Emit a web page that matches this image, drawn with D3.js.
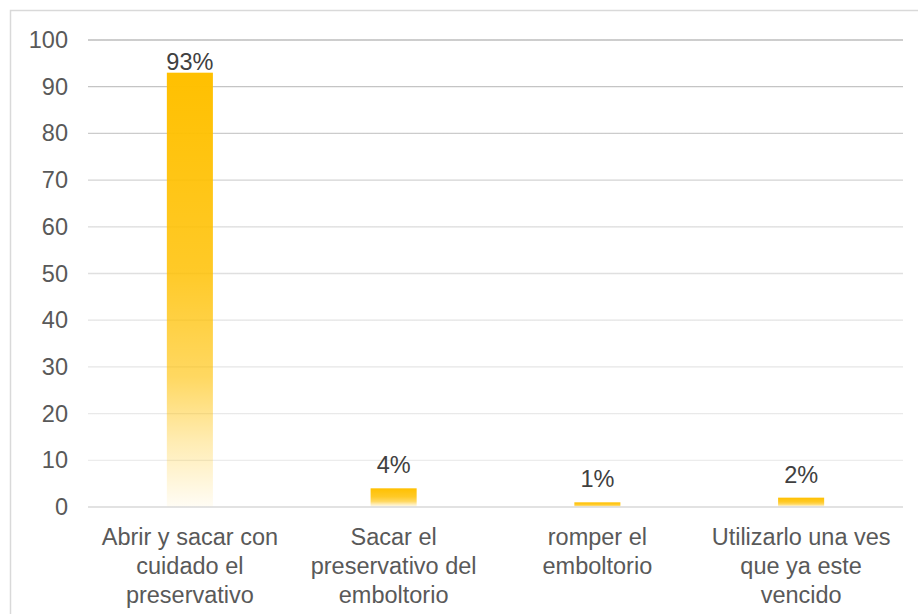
<!DOCTYPE html>
<html>
<head>
<meta charset="utf-8">
<script src="https://cdn.jsdelivr.net/npm/d3@7"></script>
<style>
  html, body { margin: 0; padding: 0; background: #fff; }
  svg { display: block; font-family: "Liberation Sans", Arial, sans-serif; }
</style>
</head>
<body>
<svg id="chart" width="918" height="614"></svg>
<script>
// Chart data
const categories = [
  ["Abrir y sacar con", "cuidado el", "preservativo"],
  ["Sacar el", "preservativo del", "emboltorio"],
  ["romper el", "emboltorio"],
  ["Utilizarlo una ves", "que ya este", "vencido"]
];
const values = [93, 4, 1, 2];
const valueLabels = ["93%", "4%", "1%", "2%"];
const yTicks = [0, 10, 20, 30, 40, 50, 60, 70, 80, 90, 100];

const svg = d3.select("#chart");
const W = 918, H = 614;
const margin = { left: 88, right: 15, top: 40, bottom: 107 };
const plotW = W - margin.left - margin.right;
const plotH = H - margin.top - margin.bottom;
const fontSize = "23.5px";

const defs = svg.append("defs");

// Bar fill: solid amber on top, fading to near-transparent at the base
const barGrad = defs.append("linearGradient")
  .attr("id", "barGrad").attr("x1", 0).attr("y1", 0).attr("x2", 0).attr("y2", 1);
[[0, 1], [0.45, 0.85], [0.7, 0.62], [0.85, 0.3], [1, 0.04]].forEach(([o, a]) =>
  barGrad.append("stop").attr("offset", o).attr("stop-color", "#ffc000").attr("stop-opacity", a));

// Gridlines darker toward the top of the plot
const gridGrad = defs.append("linearGradient")
  .attr("id", "gridGrad").attr("gradientUnits", "userSpaceOnUse")
  .attr("x1", 0).attr("y1", margin.top).attr("x2", 0).attr("y2", margin.top + plotH);
gridGrad.append("stop").attr("offset", 0).attr("stop-color", "#bdbdbd");
gridGrad.append("stop").attr("offset", 0.45).attr("stop-color", "#dedede");
gridGrad.append("stop").attr("offset", 1).attr("stop-color", "#efefef");

// Outer chart frame (extends past the window edge)
svg.append("rect")
  .attr("x", 10.5).attr("y", 10.5).attr("width", W + 20).attr("height", H + 20)
  .attr("fill", "none").attr("stroke", "#d9d9d9").attr("stroke-width", 1.5);

const x = d3.scaleBand()
  .domain(d3.range(categories.length))
  .range([margin.left, margin.left + plotW])
  .paddingInner(0.774).paddingOuter(0.387);

const y = d3.scaleLinear().domain([0, 100]).range([margin.top + plotH, margin.top]);

// Gridlines
const grid = svg.append("g");
grid.selectAll("line").data(yTicks.filter(t => t > 0)).join("line")
  .attr("x1", margin.left).attr("x2", margin.left + plotW)
  .attr("y1", d => y(d)).attr("y2", d => y(d))
  .attr("stroke", "url(#gridGrad)").attr("stroke-width", 1.3);

// Y axis labels
const yAxis = svg.append("g")
  .attr("transform", `translate(${margin.left},0)`)
  .call(d3.axisLeft(y).tickValues(yTicks).tickSize(0).tickPadding(20));
yAxis.select(".domain").remove();
yAxis.selectAll("text")
  .attr("fill", "#595959").style("font-size", fontSize)
  .style("font-family", "'Liberation Sans', Arial, sans-serif");

// Bars
svg.append("g").selectAll("rect").data(values).join("rect")
  .attr("x", (d, i) => x(i))
  .attr("y", d => y(d))
  .attr("width", x.bandwidth())
  .attr("height", d => y(0) - y(d))
  .attr("fill", "url(#barGrad)");

// Baseline
svg.append("line")
  .attr("x1", margin.left).attr("x2", margin.left + plotW)
  .attr("y1", y(0)).attr("y2", y(0))
  .attr("stroke", "#d9d9d9").attr("stroke-width", 1.5);

// Value labels above each bar, kept inside the plot area near the top
svg.append("g").selectAll("text").data(values).join("text")
  .attr("x", (d, i) => x(i) + x.bandwidth() / 2)
  .attr("y", d => Math.max(y(d) - 15, margin.top + 30))
  .attr("text-anchor", "middle")
  .attr("fill", "#404040").style("font-size", fontSize)
  .text((d, i) => valueLabels[i]);

// Category labels
const cat = svg.append("g");
categories.forEach((lines, i) => {
  const t = cat.append("text")
    .attr("x", x(i) + x.bandwidth() / 2)
    .attr("y", y(0) + 38)
    .attr("text-anchor", "middle")
    .attr("fill", "#595959").style("font-size", fontSize);
  lines.forEach((ln, j) => {
    t.append("tspan").attr("x", x(i) + x.bandwidth() / 2).attr("dy", j === 0 ? 0 : 29).text(ln);
  });
});
</script>
</body>
</html>
